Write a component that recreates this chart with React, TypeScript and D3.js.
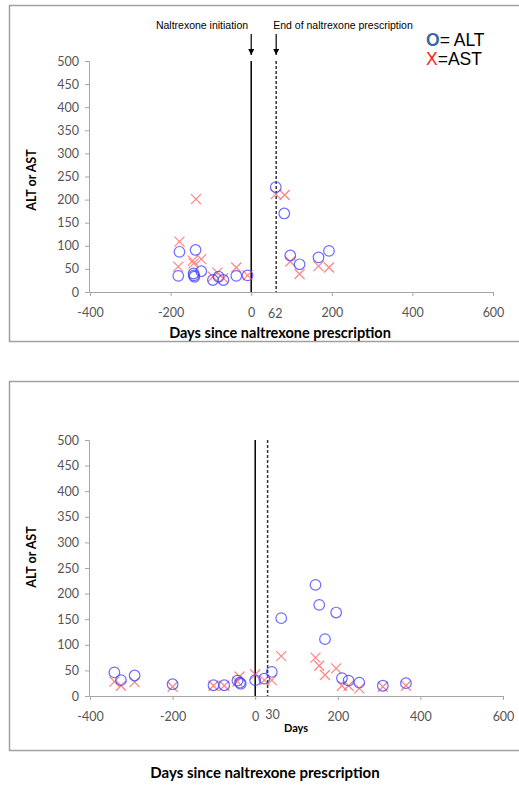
import { useEffect, useRef } from "react";
import * as d3 from "d3";

// tick values shared by both panels
const xTicks = [-400, -200, 0, 200, 400, 600];
const yTicks = [0, 50, 100, 150, 200, 250, 300, 350, 400, 450, 500];

// top panel (patient 1)
const topAltDays = [-178, -181, -138, -143, -142, -141, -124, -95, -81, -69, -37, -9, 61, 82, 97, 120, 167, 193];
const topAltValues = [87, 35, 91, 40, 36, 33, 45, 26, 33, 26, 35, 36, 227, 170, 79, 60, 75, 89];
const topAstDays = [-137, -178, -181, -145, -143, -124, -95, -84, -69, -37, -9, 61, 83, 97, 120, 167, 193];
const topAstValues = [201, 109, 55, 68, 62, 71, 33, 42, 30, 53, 36, 212, 210, 66, 39, 56, 53];

// bottom panel (patient 2)
const bottomAltDays = [-341, -325, -292, -200, -101, -75, -43, -37, -35, 0, 22, 40, 63, 146, 155, 169, 196, 210, 226, 252, 309, 365];
const bottomAltValues = [46, 31, 40, 23, 21, 21, 30, 26, 24, 31, 34, 47, 152, 217, 178, 111, 163, 35, 30, 26, 20, 25];
const bottomAstDays = [-341, -325, -292, -200, -101, -75, -43, -38, 0, 22, 40, 63, 146, 155, 169, 196, 210, 226, 252, 309, 365];
const bottomAstValues = [28, 20, 27, 18, 20, 20, 28, 38, 42, 31, 31, 78, 75, 59, 41, 54, 20, 20, 15, 18, 20];

const tickFont = "Lato, 'Open Sans', sans-serif";
const arial = "'Liberation Sans', Arial, sans-serif";

function drawPanel(g, opts) {
  const x = d3.scaleLinear().domain([-400, 600]).range(opts.xRange);
  const y = d3.scaleLinear().domain([0, 500]).range(opts.yRange);

  // axes
  const xAxis = g
    .append("g")
    .attr("transform", `translate(0,${opts.yRange[0]})`)
    .call(d3.axisBottom(x).tickValues(xTicks).tickSize(4).tickPadding(12).tickFormat((d) => String(d)));
  const yAxis = g
    .append("g")
    .attr("transform", `translate(${opts.xRange[0] - 1},0)`)
    .call(d3.axisLeft(y).tickValues(yTicks).tickSize(4).tickPadding(6));
  [xAxis, yAxis].forEach((a) => {
    a.select(".domain").attr("stroke", "#a6a6a6");
    a.selectAll(".tick line").attr("stroke", "#a6a6a6");
    a.selectAll("text").attr("fill", "#555").style("font-size", "12.5px").style("font-family", tickFont);
  });

  // extra label for end of prescription
  g.append("text")
    .attr("x", x(opts.endDay) + opts.endLabelShift)
    .attr("y", opts.yRange[0] + opts.endLabelDy)
    .attr("text-anchor", "middle")
    .attr("fill", "#555")
    .style("font-size", "12.5px")
    .style("font-family", tickFont)
    .text(opts.endDay);

  // vertical markers
  g.append("line")
    .attr("x1", x(0)).attr("x2", x(0))
    .attr("y1", y(500)).attr("y2", y(0))
    .attr("stroke", "#000").attr("stroke-width", 1.5);
  g.append("line")
    .attr("x1", x(opts.endDay)).attr("x2", x(opts.endDay))
    .attr("y1", y(500)).attr("y2", y(0))
    .attr("stroke", "#333").attr("stroke-width", 1.5).attr("stroke-dasharray", "3,2");

  // AST crosses
  const s = 5;
  const ast = g.append("g").attr("stroke", "#ff5a5a").attr("stroke-opacity", 0.75).attr("stroke-width", 1.2);
  opts.astDays.forEach((d, i) => {
    const cx = x(d);
    const cy = y(opts.astValues[i]);
    ast.append("path").attr("d", `M${cx - s},${cy - s}L${cx + s},${cy + s}M${cx - s},${cy + s}L${cx + s},${cy - s}`);
  });

  // ALT circles
  g.append("g")
    .selectAll("circle")
    .data(opts.altDays.map((d, i) => [d, opts.altValues[i]]))
    .join("circle")
    .attr("cx", (d) => x(d[0]))
    .attr("cy", (d) => y(d[1]))
    .attr("r", 5.3)
    .attr("fill", "none")
    .attr("stroke", "#4646ff")
    .attr("stroke-opacity", 0.8)
    .attr("stroke-width", 1.2);

  // y title
  g.append("text")
    .attr("transform", `translate(${opts.yTitleX},${opts.yTitleY}) rotate(-90)`)
    .attr("text-anchor", "middle")
    .style("font-family", tickFont)
    .style("font-weight", "bold")
    .style("font-size", "12.5px")
    .text("ALT or AST");

  return x;
}

const App = () => {
  const svgRef = useRef(null);

  useEffect(() => {
    const svg = d3.select(svgRef.current);
    svg.selectAll("*").remove();

    // panel frames
    svg.append("rect").attr("x", 9.5).attr("y", 5.5).attr("width", 520).attr("height", 336)
      .attr("fill", "none").attr("stroke", "#a0a0a0").attr("stroke-width", 1.5);
    svg.append("rect").attr("x", 9.5).attr("y", 381.5).attr("width", 520).attr("height", 369)
      .attr("fill", "none").attr("stroke", "#a0a0a0").attr("stroke-width", 1.5);

    const top = svg.append("g");
    const xTop = drawPanel(top, {
      xRange: [90, 493],
      yRange: [292, 61],
      endDay: 62,
      endLabelShift: -1,
      endLabelDy: 26,
      altDays: topAltDays,
      altValues: topAltValues,
      astDays: topAstDays,
      astValues: topAstValues,
      yTitleX: 36,
      yTitleY: 180,
    });

    top.append("text")
      .attr("x", 280).attr("y", 338)
      .attr("text-anchor", "middle")
      .style("font-family", tickFont)
      .style("font-weight", "bold")
      .style("font-size", "14.5px")
      .text("Days since naltrexone prescription");

    // annotations with arrows
    top.append("defs").append("marker")
      .attr("id", "arrowhead")
      .attr("viewBox", "0 0 10 10")
      .attr("refX", 10).attr("refY", 5)
      .attr("markerWidth", 5).attr("markerHeight", 5)
      .attr("orient", "auto")
      .append("path").attr("d", "M0,0L10,5L0,10z").attr("fill", "#000");
    [
      { day: 0, label: "Naltrexone initiation", cx: 202 },
      { day: 62, label: "End of naltrexone prescription", cx: 343 },
    ].forEach((a) => {
      top.append("text")
        .attr("x", a.cx).attr("y", 29)
        .attr("text-anchor", "middle")
        .style("font-family", arial)
        .style("font-size", "10.5px")
        .text(a.label);
      top.append("line")
        .attr("x1", xTop(a.day)).attr("x2", xTop(a.day))
        .attr("y1", 34).attr("y2", 55)
        .attr("stroke", "#000").attr("stroke-width", 1.2)
        .attr("marker-end", "url(#arrowhead)");
    });

    // legend
    const legend = top.append("g").style("font-family", arial).style("font-size", "17.5px");
    const l1 = legend.append("text").attr("x", 426).attr("y", 46);
    l1.append("tspan").attr("fill", "#3a66a8").style("font-weight", "bold").text("O");
    l1.append("tspan").attr("fill", "#000").text("= ALT");
    const l2 = legend.append("text").attr("x", 426).attr("y", 65);
    l2.append("tspan").attr("fill", "#ff2020").text("X");
    l2.append("tspan").attr("fill", "#000").text("=AST");

    const bottom = svg.append("g");
    drawPanel(bottom, {
      xRange: [90, 503],
      yRange: [696, 440],
      endDay: 30,
      endLabelShift: 5,
      endLabelDy: 23,
      altDays: bottomAltDays,
      altValues: bottomAltValues,
      astDays: bottomAstDays,
      astValues: bottomAstValues,
      yTitleX: 36,
      yTitleY: 557,
    });

    bottom.append("text")
      .attr("x", 296).attr("y", 732)
      .attr("text-anchor", "middle")
      .style("font-family", tickFont)
      .style("font-weight", "bold")
      .style("font-size", "11px")
      .text("Days");

    svg.append("text")
      .attr("x", 265).attr("y", 778)
      .attr("text-anchor", "middle")
      .style("font-family", tickFont)
      .style("font-weight", "bold")
      .style("font-size", "15px")
      .text("Days since naltrexone prescription");
  }, []);

  return (
    <svg
      ref={svgRef}
      width={519}
      height={787}
      style={{ position: "absolute", left: 0, top: 0, background: "#fff" }}
    />
  );
};

export default App;
